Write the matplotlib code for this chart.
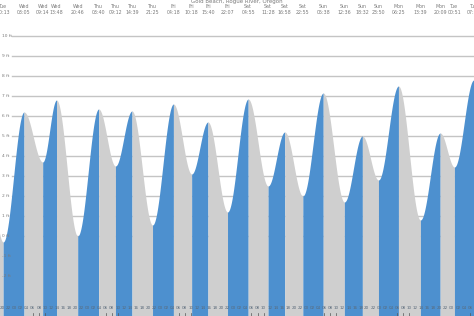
import numpy as np
import matplotlib
matplotlib.use('Agg')
import matplotlib.pyplot as plt
import matplotlib.transforms as mtransforms

## TIDE EXTREMES
#####################################################################
title = 'Gold Beach, Rogue River, Oregon'
days = ['Tue', 'Tue', 'Wed', 'Wed', 'Wed', 'Wed', 'Thu', 'Thu', 'Thu', 'Thu',
        'Fri', 'Fri', 'Fri', 'Fri', 'Sat', 'Sat', 'Sat', 'Sat',
        'Sun', 'Sun', 'Sun', 'Sun', 'Mon', 'Mon', 'Mon', 'Tue', 'Tue']
times = ['13:50', '20:13', '03:05', '09:14', '13:48', '20:46', '03:40', '09:12',
         '14:39', '21:25', '04:18', '10:18', '15:40', '22:07', '04:55', '11:28',
         '16:58', '22:55', '05:38', '12:36', '18:32', '23:50', '06:25', '13:39',
         '20:09', '00:51', '07:13']
heights = [5.0, -0.3, 6.2, 3.7, 6.8, 0.0, 6.35, 3.5, 6.25, 0.55, 6.6, 3.1,
           5.7, 1.2, 6.85, 2.5, 5.2, 2.0, 7.15, 1.7, 5.0, 2.8, 7.5, 0.8,
           5.15, 3.45, 7.8]

# y axis labels (ft)
ft_ticks = [10, 9, 8, 7, 6, 5, 4, 3, 2, 1, 0, -1, -2]

blue = '#4d90cf'
gray = '#cfcfcf'
grid = '#c4c4c4'
txt = '#7a7a7a'

# hours since the first Tue 00:00
hrs = []
day = 0
prev = -1.0
for s in times:
    h, m = s.split(':')
    v = int(h) + int(m)/60.0
    if v < prev:
        day += 1
    prev = v
    hrs.append(24.0*day + v)
hrs = np.array(hrs)
heights = np.array(heights)

W, H = 474, 316
fig = plt.figure(figsize=(W/100.0, H/100.0), dpi=100)
ax = fig.add_axes([0, 0, 1, 1])
x0, x1 = 19.18, 175.3
y0, y1 = -4.0, 11.8
ax.set_xlim(x0, x1)
ax.set_ylim(y0, y1)
ax.axis('off')

px_x = (x1 - x0)/W
tr = mtransforms.blended_transform_factory(ax.transData, ax.transAxes)

# grid lines
for f in ft_ticks:
    if f >= 0:
        ax.plot([x0 + 12*px_x, x1], [f, f], color=grid, lw=1.0, zorder=1)

# tide curve, blue when rising and gray when falling
for i in range(len(hrs) - 1):
    ta, tb = hrs[i], hrs[i+1]
    ha, hb = heights[i], heights[i+1]
    t = np.linspace(ta, tb, 60)
    h = ha + (hb - ha)*(1 - np.cos(np.pi*(t - ta)/(tb - ta)))/2.0
    c = blue if hb > ha else gray
    ax.fill_between(t, y0, h, color=c, lw=0, zorder=2)

# y labels
for f in ft_ticks:
    ax.text(x0 + 1.5*px_x, f, '%d ft' % f, fontsize=3.2, color=txt,
            va='center', ha='left', zorder=5)

# extreme labels along the top
for i in range(1, len(hrs)):
    ax.text(hrs[i], 1 - 7.0/H, days[i], fontsize=3.4, color=txt,
            ha='center', va='center', transform=tr, zorder=5)
    ax.text(hrs[i], 1 - 12.0/H, times[i], fontsize=3.4, color=txt,
            ha='center', va='center', transform=tr, zorder=5)

ax.text(0.5, 1 - 2.0/H, title, fontsize=4.0, color=txt, ha='center',
        va='center', transform=ax.transAxes, zorder=5)

# hour labels along the bottom
for hh in np.arange(20, x1, 2):
    ax.text(hh, 8.0/H, '%02d' % (int(hh) % 24), fontsize=3.0, color='#5a6a7a',
            ha='center', va='center', transform=tr, zorder=5)
    if int(hh) % 24 in (6, 8, 10):
        ax.plot([hh, hh], [0.0, 3.0/H], color='#555555', lw=0.5,
                transform=tr, zorder=5)

fig.savefig('out.png', dpi=100)
